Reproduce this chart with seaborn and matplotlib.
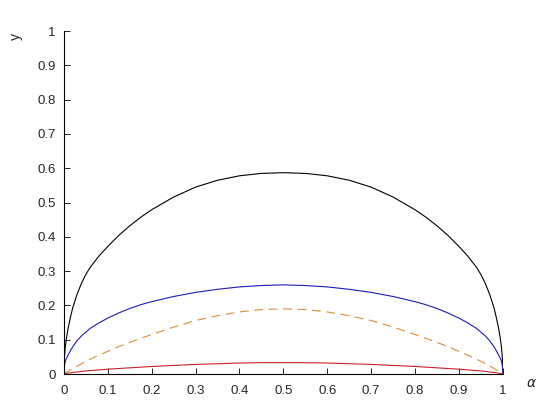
import numpy as np
import pandas as pd
import matplotlib
matplotlib.use('Agg')
import matplotlib.pyplot as plt
import seaborn as sns

# values
alpha = [0, 0.001, 0.003, 0.006, 0.01, 0.015, 0.02, 0.03, 0.04, 0.05, 0.06, 0.08,
         0.1, 0.125, 0.15, 0.175, 0.2, 0.25, 0.3, 0.35, 0.4, 0.45, 0.5,
         0.55, 0.6, 0.65, 0.7, 0.75, 0.8, 0.825, 0.85, 0.875, 0.9,
         0.92, 0.94, 0.95, 0.96, 0.97, 0.98, 0.985, 0.99, 0.994, 0.997, 0.999, 1]

black_y = [0, 0.042, 0.075, 0.105, 0.135, 0.165, 0.192, 0.232, 0.264, 0.29, 0.311, 0.344,
           0.372, 0.404, 0.432, 0.457, 0.479, 0.516, 0.545, 0.565, 0.578, 0.585, 0.587,
           0.585, 0.578, 0.565, 0.545, 0.516, 0.479, 0.457, 0.432, 0.404, 0.372,
           0.344, 0.311, 0.29, 0.264, 0.232, 0.192, 0.165, 0.135, 0.105, 0.075, 0.042, 0]

blue_y = [0, 0.022, 0.036, 0.046, 0.056, 0.068, 0.079, 0.097, 0.111, 0.122, 0.133, 0.149,
          0.163, 0.178, 0.191, 0.202, 0.211, 0.226, 0.238, 0.247, 0.254, 0.258, 0.260,
          0.258, 0.254, 0.247, 0.238, 0.226, 0.211, 0.202, 0.191, 0.178, 0.163,
          0.149, 0.133, 0.122, 0.111, 0.097, 0.079, 0.068, 0.056, 0.046, 0.036, 0.022, 0]

dashed_y = [0, 0.001, 0.0025, 0.005, 0.008, 0.012, 0.016, 0.023, 0.03, 0.037, 0.043, 0.055,
            0.066, 0.08, 0.092, 0.104, 0.115, 0.137, 0.156, 0.17, 0.181, 0.188, 0.190,
            0.188, 0.181, 0.17, 0.156, 0.137, 0.115, 0.104, 0.092, 0.08, 0.066,
            0.055, 0.043, 0.037, 0.03, 0.023, 0.016, 0.012, 0.008, 0.005, 0.0025, 0.001, 0]

red_y = [0, 0.0003, 0.0008, 0.0015, 0.0025, 0.0035, 0.0045, 0.006, 0.0075, 0.009, 0.01, 0.012,
         0.014, 0.016, 0.018, 0.02, 0.022, 0.025, 0.028, 0.030, 0.032, 0.033, 0.033,
         0.033, 0.032, 0.030, 0.028, 0.025, 0.022, 0.02, 0.018, 0.016, 0.014,
         0.012, 0.01, 0.009, 0.0075, 0.006, 0.0045, 0.0035, 0.0025, 0.0015, 0.0008, 0.0003, 0]

ticks = [0, 0.1, 0.2, 0.3, 0.4, 0.5, 0.6, 0.7, 0.8, 0.9, 1]
tick_labels = ['0', '0.1', '0.2', '0.3', '0.4', '0.5', '0.6', '0.7', '0.8', '0.9', '1']

sns.set_style('white')
plt.rcParams['font.family'] = ['Liberation Sans', 'DejaVu Sans']

df = pd.DataFrame({'alpha': alpha, 'black': black_y, 'blue': blue_y,
                   'dashed': dashed_y, 'red': red_y})

fig = plt.figure(figsize=(5.6, 4.2), dpi=100)
ax = fig.add_axes([0.114, 0.1095, 0.784, 0.8165])

sns.lineplot(data=df, x='alpha', y='black', ax=ax, color='black', linewidth=0.8)
sns.lineplot(data=df, x='alpha', y='blue', ax=ax, color='#1c1cb4', linewidth=0.8)
sns.lineplot(data=df, x='alpha', y='dashed', ax=ax, color='#d68f3a', linewidth=0.8,
             linestyle=(0, (8, 5)))
sns.lineplot(data=df, x='alpha', y='red', ax=ax, color='#c8202a', linewidth=0.8)

ax.set_xlim(0, 1)
ax.set_ylim(0, 1)
ax.set_xticks(ticks)
ax.set_xticklabels(tick_labels)
ax.set_yticks(ticks)
ax.set_yticklabels(tick_labels)
ax.tick_params(bottom=True, left=True, direction='in', length=4, width=0.6,
               labelsize=9.5, colors='black', labelcolor='#262626')
ax.tick_params(axis='x', pad=8)
ax.tick_params(axis='y', pad=6)

sns.despine(ax=ax)
for side in ['left', 'bottom']:
    ax.spines[side].set_color('black')
    ax.spines[side].set_linewidth(0.8)

ax.set_xlabel(r'$\alpha$', fontsize=10, color='#262626')
ax.xaxis.set_label_coords(1.066, -0.005)
ax.set_ylabel('y', fontsize=10, color='#262626')
ax.yaxis.set_label_coords(-0.094, 0.985)

fig.savefig('out.png', dpi=100)
